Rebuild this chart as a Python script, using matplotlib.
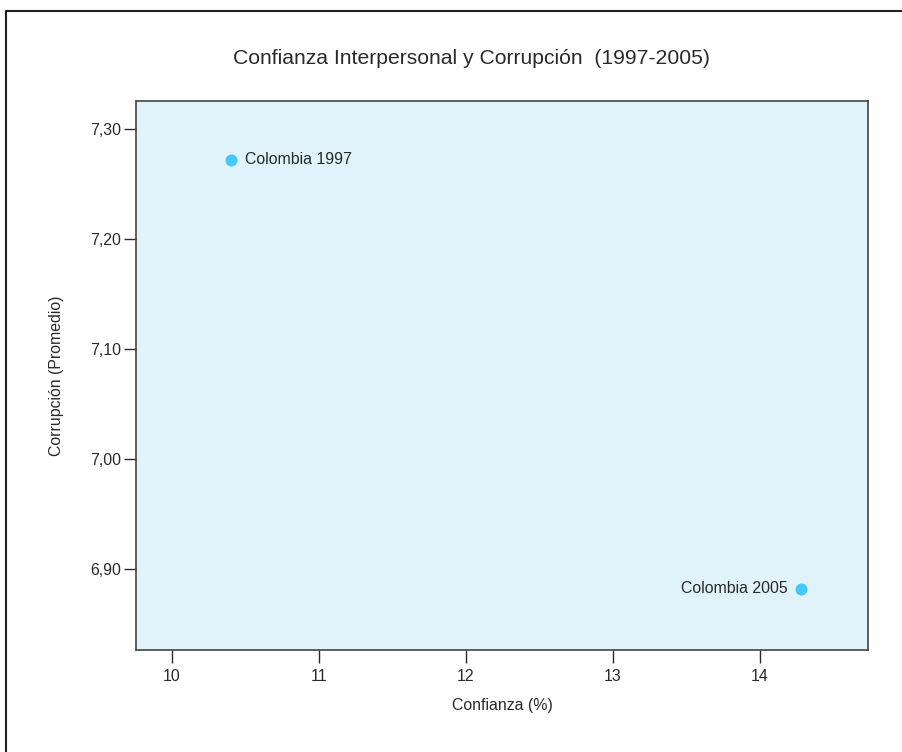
import matplotlib
matplotlib.use("Agg")
import matplotlib.pyplot as plt
from matplotlib.lines import Line2D

plt.rcParams['font.family'] = ['Liberation Sans', 'DejaVu Sans']

labels = ["Colombia 1997", "Colombia 2005"]
confianza = [10.4, 14.28]
corrupcion = [7.272, 6.882]
xticks = [10, 11, 12, 13, 14]
yticks = [6.90, 7.00, 7.10, 7.20, 7.30]
ytick_labels = ["6,90", "7,00", "7,10", "7,20", "7,30"]

W, H = 903, 752
TXT = '#2a2a2a'
fig = plt.figure(figsize=(W/100, H/100), dpi=100)
ax = fig.add_axes([136/W, 1 - 650/H, (868-136)/W, (650-101)/H])
ax.set_facecolor('#e0f2fa')
for s in ax.spines.values():
    s.set_color('#444444')
    s.set_linewidth(1.2)

ax.scatter(confianza, corrupcion, s=75, color='#45c8f5', zorder=3, linewidths=0)
ax.annotate(labels[0], (confianza[0], corrupcion[0]), xytext=(10, 0), textcoords='offset points',
            ha='left', va='center', fontsize=11.4, color=TXT)
ax.annotate(labels[1], (confianza[1], corrupcion[1]), xytext=(-10, 0), textcoords='offset points',
            ha='right', va='center', fontsize=11.4, color=TXT)

ax.set_xlim(9.755, 14.735)
ax.set_ylim(6.8264, 7.3255)
ax.set_xticks(xticks)
ax.set_xticklabels([str(v) for v in xticks])
ax.set_yticks(yticks)
ax.set_yticklabels(ytick_labels)
ax.tick_params(direction='out', length=9, width=1, colors=TXT, labelsize=11.4)
ax.tick_params(axis='x', pad=5)
ax.tick_params(axis='y', pad=2)

ax.set_xlabel("Confianza (%)", fontsize=11.4, color=TXT)
ax.set_ylabel("Corrupción (Promedio)", fontsize=11.4, color=TXT)
ax.xaxis.set_label_coords(0.5, -0.087)
ax.yaxis.set_label_coords(-0.099, 0.5)
fig.text(471/W, 1 - 58/H, "Confianza Interpersonal y Corrupción  (1997-2005)",
         ha='center', va='center', fontsize=15.2, color=TXT)

fig.add_artist(Line2D([6/W, 6/W, 1], [0, 1 - 11/H, 1 - 11/H], transform=fig.transFigure,
                      color='#222222', linewidth=1.5))

fig.savefig("out.png", dpi=100)
